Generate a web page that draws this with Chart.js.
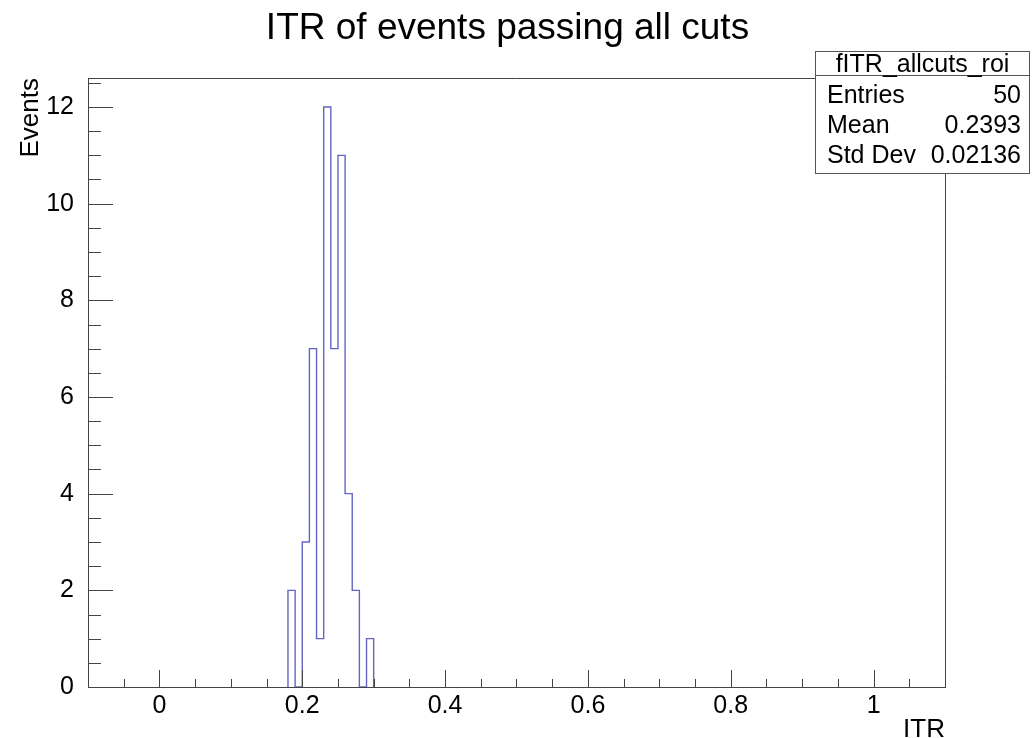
<!DOCTYPE html>
<html>
<head>
<meta charset="utf-8">
<script src="https://cdn.jsdelivr.net/npm/chart.js@4/dist/chart.umd.min.js"></script>
<style>
  html, body { margin: 0; padding: 0; background: #ffffff; }
  canvas { display: block; }
</style>
</head>
<body>
<canvas id="c" width="1036" height="738"></canvas>
<script>
// ---- data ----
const chartTitle = 'ITR of events passing all cuts';
const xAxisTitle = 'ITR';
const yAxisTitle = 'Events';
const binEdges = [0.18, 0.19, 0.20, 0.21, 0.22, 0.23, 0.24, 0.25, 0.26, 0.27, 0.28, 0.29, 0.30];
const binCounts = [2, 0, 3, 7, 1, 12, 7, 11, 4, 2, 0, 1];
const xRange = [-0.1, 1.1];
const yRange = [0, 12.6];
const xTicks = [0, 0.2, 0.4, 0.6, 0.8, 1.0];
const xTickLabels = ['0', '0.2', '0.4', '0.6', '0.8', '1'];
const xMinorTicks = [-0.05, 0.05, 0.1, 0.15, 0.25, 0.3, 0.35, 0.45, 0.5, 0.55, 0.65, 0.7, 0.75, 0.85, 0.9, 0.95, 1.05];
const yTicks = [0, 2, 4, 6, 8, 10, 12];
const yTickLabels = ['0', '2', '4', '6', '8', '10', '12'];
const yMinorTicks = [0.5, 1, 1.5, 2.5, 3, 3.5, 4.5, 5, 5.5, 6.5, 7, 7.5, 8.5, 9, 9.5, 10.5, 11, 11.5, 12.5];
const statsName = 'fITR_allcuts_roi';
const statsLabels = ['Entries', 'Mean', 'Std Dev'];
const statsValues = ['50', '0.2393', '0.02136'];

// ---- build ----
const FONT = "'Liberation Sans', Arial, Helvetica, sans-serif";
// histogram outline: rise at each low edge, run to the next edge
const histPoints = [{ x: binEdges[0], y: 0 }];
binCounts.forEach((c, i) => histPoints.push({ x: binEdges[i + 1], y: c }));
histPoints.push({ x: binEdges[binEdges.length - 1], y: 0 });

const rootPlugin = {
  id: 'rootDecor',
  afterDraw(chart) {
    const ctx = chart.ctx;
    const a = chart.chartArea;
    const xs = chart.scales.x, ys = chart.scales.y;
    ctx.save();
    ctx.strokeStyle = '#444';
    ctx.lineWidth = 1;
    // frame top & right
    ctx.beginPath();
    ctx.moveTo(a.left, a.top + 0.5);
    ctx.lineTo(a.right + 0.5, a.top + 0.5);
    ctx.lineTo(a.right + 0.5, a.bottom);
    ctx.stroke();
    // x ticks (inward)
    ctx.beginPath();
    xTicks.forEach(v => { const p = Math.round(xs.getPixelForValue(v)) + 0.5; ctx.moveTo(p, a.bottom); ctx.lineTo(p, a.bottom - 17); });
    xMinorTicks.forEach(v => { const p = Math.round(xs.getPixelForValue(v)) + 0.5; ctx.moveTo(p, a.bottom); ctx.lineTo(p, a.bottom - 8); });
    // y ticks (inward)
    yTicks.forEach(v => { const p = Math.round(ys.getPixelForValue(v)) + 0.5; ctx.moveTo(a.left, p); ctx.lineTo(a.left + 25, p); });
    yMinorTicks.forEach(v => { const p = Math.round(ys.getPixelForValue(v)) + 0.5; ctx.moveTo(a.left, p); ctx.lineTo(a.left + 13, p); });
    ctx.stroke();

    // title
    ctx.fillStyle = '#000';
    ctx.font = '37px ' + FONT;
    ctx.textAlign = 'center';
    ctx.textBaseline = 'alphabetic';
    ctx.fillText(chartTitle, 507.5, 39);

    // stats box
    const bx = 815.5, by = 51.5, bw = 214, bh = 122;
    ctx.fillStyle = '#fff';
    ctx.fillRect(bx, by, bw, bh);
    ctx.strokeStyle = '#555';
    ctx.strokeRect(bx, by, bw, bh);
    ctx.beginPath();
    ctx.moveTo(bx, 75.5); ctx.lineTo(bx + bw, 75.5);
    ctx.stroke();
    ctx.fillStyle = '#000';
    ctx.font = '25px ' + FONT;
    ctx.textAlign = 'center';
    ctx.fillText(statsName, bx + bw / 2, 72);
    const baselines = [103, 133, 163];
    statsLabels.forEach((l, i) => {
      ctx.textAlign = 'left';
      ctx.fillText(l, 827, baselines[i]);
      ctx.textAlign = 'right';
      ctx.fillText(statsValues[i], 1021, baselines[i]);
    });
    ctx.restore();
  }
};

new Chart(document.getElementById('c'), {
  type: 'line',
  data: {
    datasets: [{
      data: histPoints,
      stepped: 'after',
      borderColor: 'rgb(100,100,200)',
      borderWidth: 1.4,
      pointRadius: 0,
      fill: false,
      tension: 0
    }]
  },
  options: {
    responsive: false,
    animation: false,
    devicePixelRatio: 1,
    layout: { padding: { top: 78, right: 91, left: 0, bottom: 0 } },
    plugins: { legend: { display: false }, title: { display: false }, tooltip: { enabled: false } },
    scales: {
      x: {
        type: 'linear',
        min: xRange[0], max: xRange[1],
        grid: { display: false },
        border: { display: true, color: '#444', width: 1 },
        afterBuildTicks: s => { s.ticks = xTicks.map(v => ({ value: v })); },
        afterFit: s => { s.height = 51; },
        ticks: {
          autoSkip: false, maxRotation: 0, padding: -4, color: '#000',
          font: { family: FONT, size: 25 },
          callback: (v, i) => xTickLabels[i]
        },
        title: {
          display: true, text: xAxisTitle, align: 'end', color: '#000',
          font: { family: FONT, size: 26, lineHeight: 0.65 },
          padding: { top: 0, bottom: 0 }
        }
      },
      y: {
        type: 'linear',
        min: yRange[0], max: yRange[1],
        grid: { display: false },
        border: { display: true, color: '#444', width: 1 },
        afterBuildTicks: s => { s.ticks = yTicks.map(v => ({ value: v })); },
        afterFit: s => { s.width = 88; },
        ticks: {
          autoSkip: false, padding: 6, color: '#000',
          font: { family: FONT, size: 25 },
          callback: (v, i) => yTickLabels[i]
        },
        title: {
          display: true, text: yAxisTitle, align: 'end', color: '#000',
          font: { family: FONT, size: 26, lineHeight: 1.2 },
          padding: { top: 15, bottom: 0 }
        }
      }
    }
  },
  plugins: [rootPlugin]
});
</script>
</body>
</html>
